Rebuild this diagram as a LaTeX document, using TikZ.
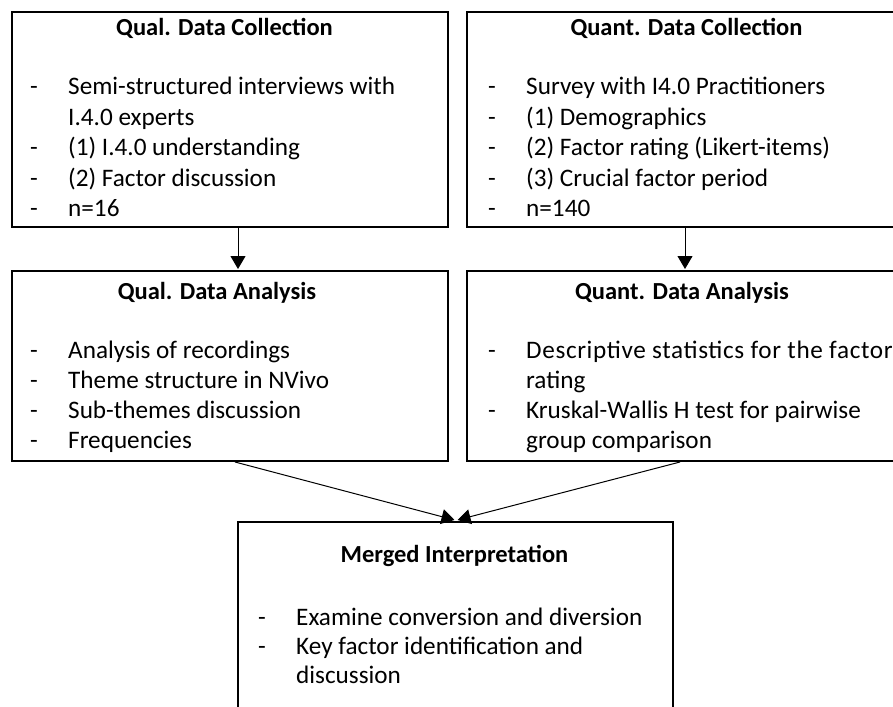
\documentclass[tikz,border=0pt]{standalone}
\usepackage{fontspec}
\setmainfont{Carlito}
\usetikzlibrary{arrows.meta,calc}

\tikzset{
  stage/.style={draw, line width=2pt, rectangle, inner sep=0pt},
  flow/.style={line width=1pt, -{Triangle[width=15pt,length=13pt]}},
  head/.style={anchor=base, font=\fontsize{24.5pt}{30pt}\selectfont\bfseries},
  item/.style={anchor=base west, inner sep=0pt, font=\fontsize{25.2pt}{30pt}\selectfont},
  wide/.style={font=\fontsize{25.2pt}{30pt}\selectfont\addfontfeature{LetterSpace=2.5}},
}

\begin{document}
\begin{tikzpicture}[x=1pt, y=-1pt]
  \clip (0,0) rectangle (893,706);
  \fill[white] (0,0) rectangle (893,706);

  % stage boxes
  \node[stage, minimum width=436pt, minimum height=215pt] (qualcol) at (230,119.5) {};
  \node[stage, minimum width=436pt, minimum height=215pt] (quantcol) at (685,119.5) {};
  \node[stage, minimum width=436pt, minimum height=190pt] (qualana) at (230,366) {};
  \node[stage, minimum width=436pt, minimum height=190pt] (quantana) at (685,366) {};
  \node[stage, minimum width=435pt, minimum height=210pt] (merged) at (455.5,627) {};

  % Qual. Data Collection
  \node[head] (h1) at (224.5,36) {Qual. Data Collection};
  \node[item] (d11) at (30,94.5) {-};
  \node[item] (t11) at (68,94.5) {Semi-structured interviews with};
  \node[item] (t12) at (68,125) {I.4.0 experts};
  \node[item] (d13) at (30,155.5) {-};
  \node[item] (t13) at (68,155.5) {(1) I.4.0 understanding};
  \node[item] (d14) at (30,186) {-};
  \node[item] (t14) at (68,186) {(2) Factor discussion};
  \node[item] (d15) at (30,216.5) {-};
  \node[item] (t15) at (68,216.5) {n=16};

  % Quant. Data Collection
  \node[head] (h2) at (686.5,36) {Quant. Data Collection};
  \node[item] (d21) at (488,94.5) {-};
  \node[item] (t21) at (526,94.5) {Survey with I4.0 Practitioners};
  \node[item] (d22) at (488,125) {-};
  \node[item] (t22) at (526,125) {(1) Demographics};
  \node[item] (d23) at (488,155.5) {-};
  \node[item] (t23) at (526,155.5) {(2) Factor rating (Likert-items)};
  \node[item] (d24) at (488,186) {-};
  \node[item] (t24) at (526,186) {(3) Crucial factor period};
  \node[item] (d25) at (488,216.5) {-};
  \node[item] (t25) at (526,216.5) {n=140};

  % Qual. Data Analysis
  \node[head] (h3) at (217,299) {Qual. Data Analysis};
  \node[item] (d31) at (30,358) {-};
  \node[item] (t31) at (68,358) {Analysis of recordings};
  \node[item] (d32) at (30,388) {-};
  \node[item] (t32) at (68,388) {Theme structure in NVivo};
  \node[item] (d33) at (30,418) {-};
  \node[item] (t33) at (68,418) {Sub-themes discussion};
  \node[item] (d34) at (30,448) {-};
  \node[item] (t34) at (68,448) {Frequencies};

  % Quant. Data Analysis
  \node[head] (h4) at (682,299) {Quant. Data Analysis};
  \node[item] (d41) at (488,358) {-};
  \node[item, wide] (t41) at (526,358) {Descriptive statistics for the factor};
  \node[item] (t42) at (526,388) {rating};
  \node[item] (d43) at (488,418) {-};
  \node[item] (t43) at (526,418) {Kruskal-Wallis H test for pairwise};
  \node[item] (t44) at (526,448) {group comparison};

  % Merged Interpretation
  \node[head] (h5) at (454.5,562) {Merged Interpretation};
  \node[item] (d51) at (258,625) {-};
  \node[item] (t51) at (296,625) {Examine conversion and diversion};
  \node[item] (d52) at (258,654) {-};
  \node[item] (t52) at (296,654) {Key factor identification and};
  \node[item] (t53) at (296,683.5) {discussion};

  % connectors
  \draw[flow] ($(qualcol.south)+(8,0)$) -- ($(qualana.north)+(8,-1)$);
  \draw[flow] (quantcol.south) -- ($(quantana.north)+(0,-1)$);
  \draw[flow] ($(qualana.south)+(5,0)$) -- ($(merged.north)+(-1,-1)$);
  \draw[flow] ($(quantana.south)+(-5,0)$) -- ($(merged.north)+(2,-1)$);
\end{tikzpicture}
\end{document}
